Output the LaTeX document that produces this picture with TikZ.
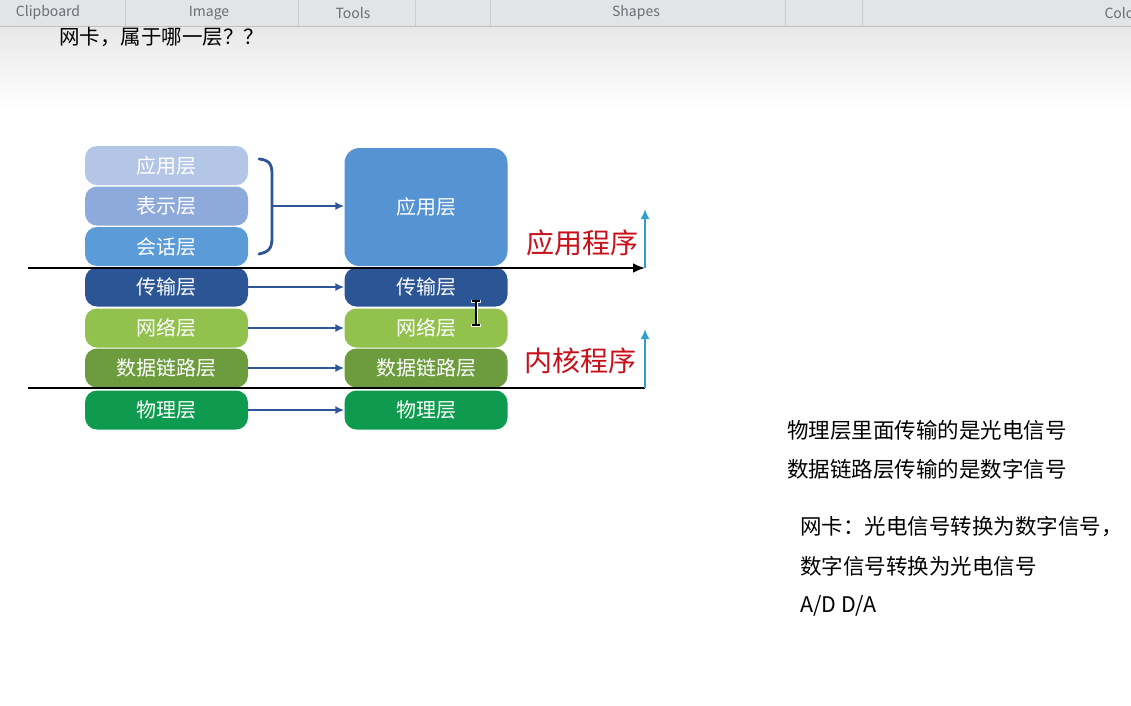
\documentclass[tikz,border=0pt]{standalone}
\usepackage{fontspec}
\setmainfont{Noto Sans CJK SC}
\setsansfont{Noto Sans CJK SC}
\usetikzlibrary{arrows.meta}
\definecolor{bA}{HTML}{B3C6E6}
\definecolor{bB}{HTML}{8EAADB}
\definecolor{bC}{HTML}{5A9BD8}
\definecolor{bD}{HTML}{2C5596}
\definecolor{gA}{HTML}{92C14E}
\definecolor{gB}{HTML}{6C9C3E}
\definecolor{gC}{HTML}{0E9B4F}
\definecolor{bBig}{HTML}{5593D3}
\definecolor{arrblue}{HTML}{2F5597}
\definecolor{upblue}{HTML}{2E9FD0}
\definecolor{redtxt}{HTML}{C8101A}
\definecolor{toolbar}{HTML}{E2E4E7}
\definecolor{tooltxt}{HTML}{6A6D72}
\begin{document}
\begin{tikzpicture}[x=1pt,y=-1pt,
  layer/.style={rectangle,rounded corners=12pt,minimum width=163pt,minimum height=39pt,
     inner sep=0pt,text=white,font=\fontsize{20}{22}\selectfont},
  conn/.style={draw=arrblue,line width=2.2pt,-{Latex[length=9pt,width=8pt]}},
  sep/.style={line width=2.6pt,black},
  up/.style={draw=upblue,line width=2.4pt,-{Latex[length=10pt,width=9pt]}},
  prog/.style={text=redtxt,font=\fontsize{28}{30}\selectfont,anchor=center},
  note/.style={anchor=west,font=\fontsize{21.5}{24}\selectfont,text=black,inner sep=0pt},
  tool/.style={font=\fontsize{14}{15}\selectfont,text=tooltxt,anchor=center}]
\useasboundingbox (0,0) rectangle (1131,705);
\fill[white] (0,0) rectangle (1131,705);
% background gradient below toolbar
\shade[top color=black!9,bottom color=white] (0,27) rectangle (1131,110);
% toolbar
\fill[toolbar] (0,0) rectangle (1131,26);
\draw[black!25,line width=1pt] (0,26.5) -- (1131,26.5);
\foreach \xx in {125,298,415,490,785,862} \draw[black!20] (\xx,0) -- (\xx,26);
\node[tool] (tb1) at (48,13) {Clipboard};
\node[tool] (tb2) at (209,13) {Image};
\node[tool] (tb3) at (353,13) {Tools};
\node[tool] (tb4) at (636,13) {Shapes};
\node[tool,anchor=west] (tb5) at (1101,13) {Colo};
% title
\node[anchor=west,inner sep=0pt,font=\fontsize{20.5}{22}\selectfont] (title) at (59,37) {网卡，属于哪一层？？};
% left stack
\node[layer,fill=bA] (l1) at (166.5,165.5) {应用层};
\node[layer,fill=bB] (l2) at (166.5,206) {表示层};
\node[layer,fill=bC] (l3) at (166.5,246.5) {会话层};
\node[layer,fill=bD] (l4) at (166.5,287) {传输层};
\node[layer,fill=gA] (l5) at (166.5,328) {网络层};
\node[layer,fill=gB] (l6) at (166.5,368) {数据链路层};
\node[layer,fill=gC] (l7) at (166.5,410) {物理层};
% right stack
\node[layer,fill=bBig,minimum height=118pt,rounded corners=15pt] (r1) at (426,207) {应用层};
\node[layer,fill=bD] (r4) at (426,287) {传输层};
\node[layer,fill=gA] (r5) at (426,328) {网络层};
\node[layer,fill=gB] (r6) at (426,368) {数据链路层};
\node[layer,fill=gC] (r7) at (426,410) {物理层};
% brace
\coordinate (bm) at (272,206);
\draw[arrblue,line width=2.8pt,line cap=round] (259,159) .. controls (269,160) and (272,164) .. (272,174) -- (272,238) .. controls (272,248) and (269,252) .. (259,254);
\draw[conn] (bm) -- (r1.west |- bm);
% arrows
\draw[conn] (l4.east) -- (r4.west);
\draw[conn] (l5.east) -- (r5.west);
\draw[conn] (l6.east) -- (r6.west);
\draw[conn] (l7.east) -- (r7.west);
% separator lines
\coordinate (s1a) at (28,268);
\coordinate (s1b) at (645,268);
\coordinate (s2a) at (28,388);
\coordinate (s2b) at (645,388);
\coordinate (u1) at (645,209);
\coordinate (u2) at (645,329);
\draw[sep,-{Latex[length=12pt,width=10pt]}] (s1a) -- (s1b);
\draw[sep] (s2a) -- (s2b);
\draw[up] (s1b) -- (u1);
\draw[up] (s2b) -- (u2);
\node[prog] (app) at (582,243) {应用程序};
\node[prog] (ker) at (580,361) {内核程序};
% cursor
\draw[white,line width=3pt] (476,301) -- (476,325) (471,301) -- (481,301) (471,325) -- (481,325);
\draw[black,line width=1.2pt] (476,301) -- (476,325) (472,301) -- (480,301) (472,325) -- (480,325);
% notes
\node[note] (n1) at (787,430) {物理层里面传输的是光电信号};
\node[note] (n2) at (787,469) {数据链路层传输的是数字信号};
\node[note] (n3) at (800,527) {网卡：光电信号转换为数字信号，};
\node[note] (n4) at (800,566) {数字信号转换为光电信号};
\node[note] (n5) at (800,606) {A/D D/A};
\end{tikzpicture}
\end{document}
